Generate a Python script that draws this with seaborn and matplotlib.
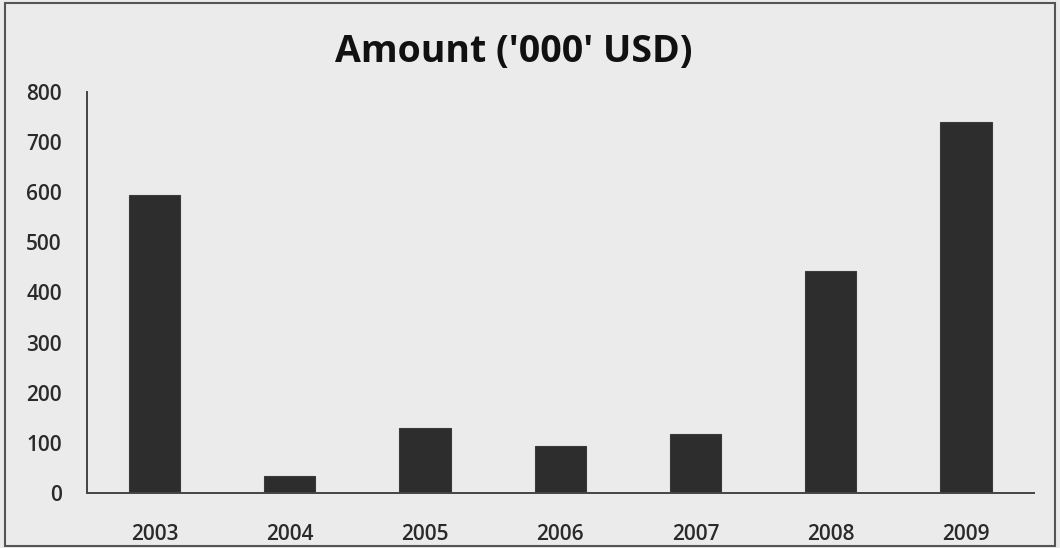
import matplotlib
matplotlib.use("Agg")
import matplotlib.pyplot as plt
import seaborn as sns
import pandas as pd
from matplotlib.patches import Rectangle

# Yearly amounts in thousands of USD
years = ["2003", "2004", "2005", "2006", "2007", "2008", "2009"]
amounts = [595, 34, 130, 94, 117, 443, 740]
y_ticks = [0, 100, 200, 300, 400, 500, 600, 700, 800]
title = "Amount ('000' USD)"

df = pd.DataFrame({"year": years, "amount": amounts})

sns.set_style("white")
plt.rcParams["font.family"] = ["Open Sans", "DejaVu Sans"]

fig = plt.figure(figsize=(10.6, 5.48), dpi=100)
fig.patch.set_facecolor("#ebebeb")
ax = fig.add_axes([0.082, 0.1004, 0.893, 0.732])
ax.set_facecolor("#ebebeb")

sns.barplot(data=df, x="year", y="amount", color="#2d2d2d", width=0.38,
            edgecolor="#3a3a3a", linewidth=0.8, saturation=1, ax=ax)

ax.set_xlim(-0.5, 6.5)
ax.set_ylim(0, 800)
ax.set_yticks(y_ticks)
ax.set_yticklabels([str(v) for v in y_ticks])
ax.set_xlabel("")
ax.set_ylabel("")

for side in ("top", "right"):
    ax.spines[side].set_visible(False)
for side in ("left", "bottom"):
    ax.spines[side].set_color("#444444")
    ax.spines[side].set_linewidth(1.4)

ax.tick_params(axis="both", length=0, colors="#2a2a2a", labelsize=15)
ax.tick_params(axis="y", pad=18)
ax.tick_params(axis="x", pad=22)
for lbl in ax.get_xticklabels() + ax.get_yticklabels():
    lbl.set_fontweight("semibold")
    lbl.set_color("#2a2a2a")

fig.text(0.485, 0.905, title, ha="center", va="center",
         fontsize=27, fontweight="bold", color="#111111")

# thin frame around the chart
fig.patches.append(Rectangle((0.005, 0.004), 0.99, 0.99, transform=fig.transFigure,
                             fill=False, edgecolor="#555555", linewidth=1.5))

fig.savefig("out.png", dpi=100, facecolor=fig.get_facecolor())
